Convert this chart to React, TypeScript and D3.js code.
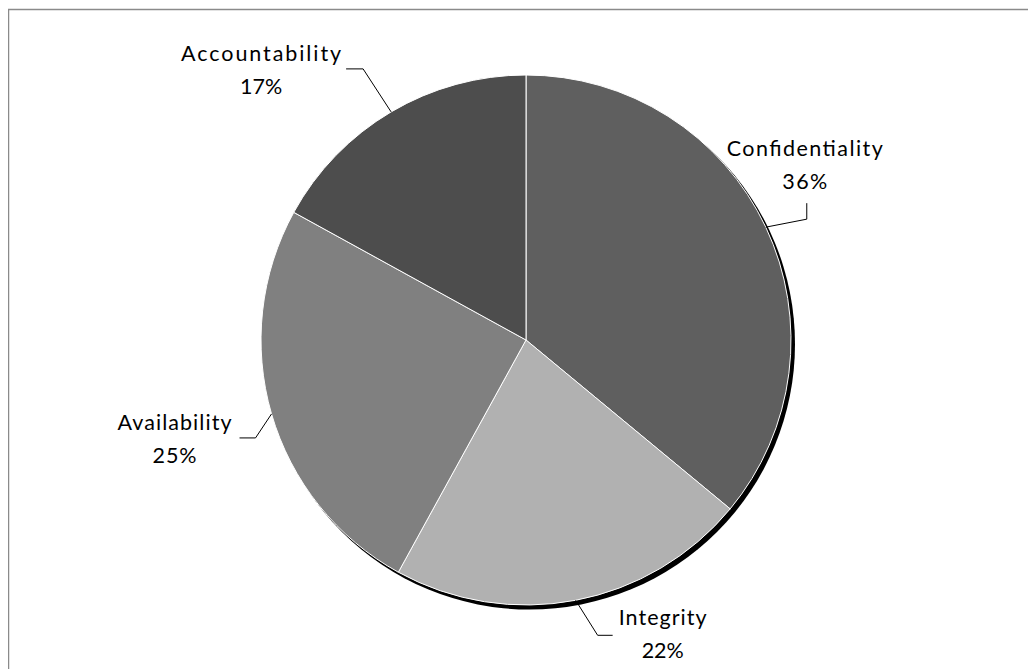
import React from "react";
import * as d3 from "d3";

const categories = ["Confidentiality", "Integrity", "Availability", "Accountability"];
const values = [36, 22, 25, 17];
const percentLabels = ["36%", "22%", "25%", "17%"];
const sliceColors = ["#5f5f5f", "#b1b1b1", "#808080", "#4d4d4d"];

// label layout relative to the slice's outer mid point (elbow, end, text centre & first baseline, text widths)
const labelLayout = [
  { elbow: [41, -8], end: [41, -24], text: [39, -71], w1: 156, w2: 45 },
  { elbow: [22, 35], end: [37, 35], text: [87, 25], w1: 88, w2: 42 },
  { elbow: [-16, 24], end: [-32, 24], text: [-97, 16], w1: 114, w2: 44 },
  { elbow: [-28, -43], end: [-45, -43], text: [-130, -51], w1: 160, w2: 42 },
];

export default function App() {
  const ox = 8, oy = 8; // body margin
  const cx = 526 - ox, cy = 340 - oy, r = 265;
  const pie = d3.pie<number>().sort(null).value((d) => d)(values);
  const arc = d3.arc<d3.PieArcDatum<number>>().innerRadius(0).outerRadius(r);
  const fontSize = 21.5;
  const lineGap = 33;
  const font = "Lato, 'Open Sans', sans-serif";
  return (
    <svg width={1028} height={661} style={{ display: "block" }}>
      <rect x={0.5} y={1.5} width={1100} height={1000} fill="#fff" stroke="#8a8a8a" strokeWidth={1.5} />
      <g transform={`translate(${cx},${cy})`}>
        <circle cx={3.5} cy={4} r={r + 0.5} fill="#000" />
        {pie.map((p, i) => (
          <path key={i} d={arc(p) || ""} fill={sliceColors[i]} stroke="#fff" strokeWidth={1} />
        ))}
        {pie.map((p, i) => {
          const mid = (p.startAngle + p.endAngle) / 2;
          const ex = r * Math.sin(mid);
          const ey = -r * Math.cos(mid);
          const L = labelLayout[i];
          const tx = ex + L.text[0];
          const ty = ey + L.text[1];
          return (
            <g key={"l" + i}>
              <polyline
                points={`${ex},${ey} ${ex + L.elbow[0]},${ey + L.elbow[1]} ${ex + L.end[0]},${ey + L.end[1]}`}
                fill="none"
                stroke="#000"
                strokeWidth={1}
              />
              <text
                x={tx}
                y={ty}
                textAnchor="middle"
                fontFamily={font}
                fontSize={fontSize}
                fill="#000"
                textLength={L.w1}
                lengthAdjust="spacing"
              >
                {categories[i]}
              </text>
              <text
                x={tx}
                y={ty + lineGap}
                textAnchor="middle"
                fontFamily={font}
                fontSize={fontSize}
                fill="#000"
                textLength={L.w2}
                lengthAdjust="spacing"
              >
                {percentLabels[i]}
              </text>
            </g>
          );
        })}
      </g>
    </svg>
  );
}
